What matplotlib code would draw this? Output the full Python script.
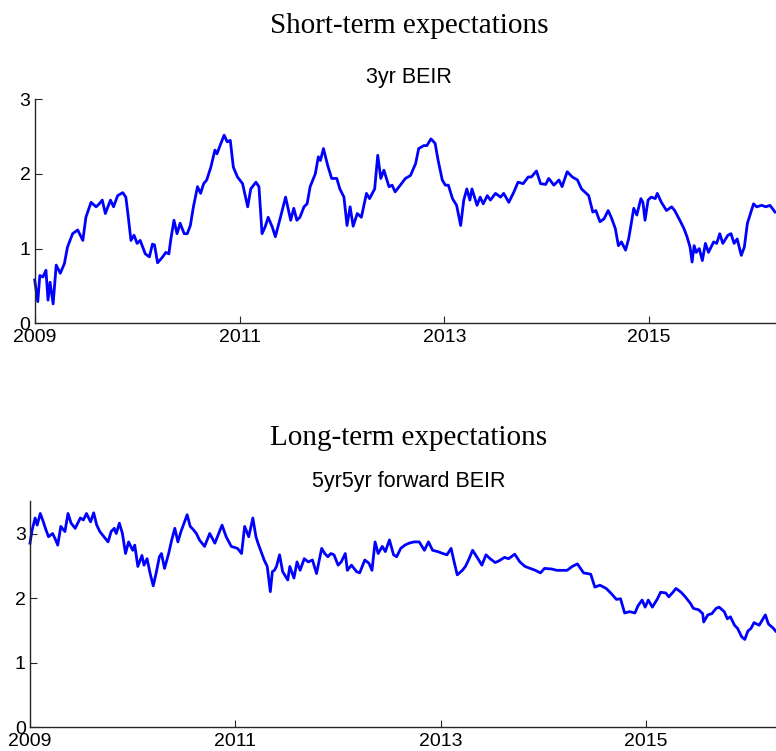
import matplotlib
matplotlib.use("Agg")
import matplotlib.pyplot as plt
import numpy as np

# ---- data: 3yr BEIR (short-term) ----
years_short = [
    2009.00, 2009.03, 2009.05, 2009.08, 2009.11, 2009.13, 2009.15, 2009.18, 2009.21, 2009.25,
    2009.29, 2009.32, 2009.37, 2009.42, 2009.47, 2009.50, 2009.55, 2009.60, 2009.63, 2009.66,
    2009.69, 2009.74, 2009.77, 2009.81, 2009.86, 2009.89, 2009.91, 2009.94, 2009.97, 2010.00,
    2010.03, 2010.08, 2010.12, 2010.15, 2010.17, 2010.20, 2010.25, 2010.28, 2010.31, 2010.33,
    2010.36, 2010.39, 2010.42, 2010.46, 2010.49, 2010.52, 2010.55, 2010.59, 2010.62, 2010.65,
    2010.68, 2010.72, 2010.76, 2010.78, 2010.81, 2010.85, 2010.88, 2010.91, 2010.94, 2010.98,
    2011.03, 2011.08, 2011.11, 2011.16, 2011.19, 2011.22, 2011.25, 2011.28, 2011.32, 2011.35,
    2011.40, 2011.45, 2011.50, 2011.53, 2011.56, 2011.59, 2011.63, 2011.66, 2011.69, 2011.74,
    2011.77, 2011.79, 2011.82, 2011.86, 2011.90, 2011.95, 2011.98, 2012.02, 2012.05, 2012.08,
    2012.11, 2012.15, 2012.19, 2012.24, 2012.27, 2012.32, 2012.35, 2012.38, 2012.41, 2012.46,
    2012.49, 2012.52, 2012.57, 2012.62, 2012.67, 2012.72, 2012.75, 2012.80, 2012.83, 2012.87,
    2012.91, 2012.94, 2012.98, 2013.01, 2013.04, 2013.08, 2013.12, 2013.16, 2013.19, 2013.22,
    2013.25, 2013.27, 2013.32, 2013.35, 2013.38, 2013.42, 2013.45, 2013.50, 2013.55, 2013.58,
    2013.63, 2013.68, 2013.72, 2013.77, 2013.82, 2013.85, 2013.90, 2013.94, 2013.99, 2014.02,
    2014.07, 2014.12, 2014.15, 2014.20, 2014.25, 2014.30, 2014.34, 2014.41, 2014.45, 2014.48,
    2014.52, 2014.56, 2014.60, 2014.63, 2014.67, 2014.70, 2014.73, 2014.77, 2014.80, 2014.82,
    2014.85, 2014.88, 2014.92, 2014.94, 2014.96, 2014.99, 2015.02, 2015.06, 2015.08, 2015.12,
    2015.17, 2015.22, 2015.25, 2015.30, 2015.34, 2015.37, 2015.40, 2015.42, 2015.44, 2015.46,
    2015.49, 2015.52, 2015.55, 2015.58, 2015.63, 2015.66, 2015.69, 2015.72, 2015.77, 2015.80,
    2015.83, 2015.86, 2015.90, 2015.93, 2015.96, 2015.99, 2016.02, 2016.05, 2016.10, 2016.14,
    2016.18, 2016.23,
]
beir_3yr = [
    0.58, 0.29, 0.64, 0.62, 0.71, 0.31, 0.55, 0.26, 0.78, 0.67,
    0.80, 1.02, 1.20, 1.25, 1.11, 1.42, 1.62, 1.56, 1.60, 1.65,
    1.47, 1.65, 1.56, 1.71, 1.75, 1.69, 1.47, 1.11, 1.18, 1.07,
    1.11, 0.93, 0.89, 1.06, 1.05, 0.81, 0.89, 0.95, 0.93, 1.13,
    1.38, 1.20, 1.34, 1.20, 1.20, 1.31, 1.56, 1.83, 1.74, 1.87,
    1.92, 2.09, 2.32, 2.27, 2.38, 2.52, 2.43, 2.45, 2.09, 1.96,
    1.87, 1.56, 1.80, 1.89, 1.83, 1.20, 1.29, 1.42, 1.29, 1.16,
    1.42, 1.69, 1.38, 1.54, 1.38, 1.42, 1.56, 1.60, 1.83, 2.00,
    2.23, 2.18, 2.34, 2.12, 1.94, 1.94, 1.80, 1.69, 1.31, 1.56,
    1.30, 1.47, 1.42, 1.74, 1.67, 1.80, 2.25, 1.94, 2.05, 1.83,
    1.85, 1.76, 1.85, 1.94, 1.98, 2.14, 2.34, 2.38, 2.38, 2.47,
    2.41, 2.18, 1.92, 1.85, 1.85, 1.67, 1.58, 1.31, 1.65, 1.80,
    1.65, 1.80, 1.58, 1.69, 1.60, 1.71, 1.65, 1.74, 1.69, 1.74,
    1.62, 1.76, 1.89, 1.87, 1.96, 1.96, 2.04, 1.87, 1.86, 1.94,
    1.85, 1.92, 1.83, 2.03, 1.96, 1.92, 1.80, 1.71, 1.49, 1.51,
    1.36, 1.40, 1.51, 1.42, 1.27, 1.04, 1.09, 0.98, 1.13, 1.29,
    1.54, 1.45, 1.67, 1.62, 1.38, 1.65, 1.69, 1.67, 1.74, 1.62,
    1.51, 1.56, 1.51, 1.38, 1.27, 1.16, 1.02, 0.82, 1.04, 0.95,
    1.00, 0.84, 1.07, 0.95, 1.09, 1.07, 1.20, 1.07, 1.18, 1.20,
    1.07, 1.13, 0.91, 1.02, 1.34, 1.47, 1.60, 1.56, 1.58, 1.56,
    1.58, 1.49,
]

# ---- data: 5yr5yr forward BEIR (long-term) ----
years_long = [
    2009.00, 2009.02, 2009.05, 2009.07, 2009.10, 2009.13, 2009.15, 2009.18, 2009.22, 2009.25,
    2009.27, 2009.30, 2009.34, 2009.37, 2009.40, 2009.44, 2009.49, 2009.52, 2009.55, 2009.59,
    2009.62, 2009.65, 2009.68, 2009.72, 2009.76, 2009.79, 2009.82, 2009.84, 2009.87, 2009.90,
    2009.93, 2009.96, 2010.00, 2010.02, 2010.05, 2010.09, 2010.11, 2010.14, 2010.17, 2010.20,
    2010.23, 2010.26, 2010.28, 2010.31, 2010.35, 2010.38, 2010.41, 2010.44, 2010.47, 2010.53,
    2010.56, 2010.59, 2010.62, 2010.65, 2010.70, 2010.75, 2010.80, 2010.87, 2010.91, 2010.96,
    2011.02, 2011.06, 2011.09, 2011.13, 2011.17, 2011.20, 2011.22, 2011.28, 2011.31, 2011.34,
    2011.36, 2011.38, 2011.40, 2011.43, 2011.46, 2011.51, 2011.53, 2011.57, 2011.60, 2011.63,
    2011.67, 2011.71, 2011.75, 2011.79, 2011.84, 2011.87, 2011.90, 2011.93, 2011.96, 2012.00,
    2012.03, 2012.07, 2012.09, 2012.13, 2012.18, 2012.21, 2012.26, 2012.30, 2012.33, 2012.36,
    2012.39, 2012.43, 2012.46, 2012.50, 2012.54, 2012.57, 2012.61, 2012.65, 2012.69, 2012.74,
    2012.79, 2012.84, 2012.88, 2012.92, 2012.97, 2013.02, 2013.06, 2013.10, 2013.13, 2013.16,
    2013.21, 2013.24, 2013.27, 2013.31, 2013.35, 2013.40, 2013.44, 2013.48, 2013.53, 2013.57,
    2013.62, 2013.66, 2013.72, 2013.77, 2013.82, 2013.87, 2013.92, 2013.97, 2014.01, 2014.08,
    2014.13, 2014.18, 2014.23, 2014.28, 2014.33, 2014.39, 2014.46, 2014.50, 2014.55, 2014.61,
    2014.66, 2014.71, 2014.75, 2014.79, 2014.84, 2014.89, 2014.92, 2014.96, 2014.99, 2015.02,
    2015.06, 2015.11, 2015.14, 2015.19, 2015.22, 2015.26, 2015.29, 2015.34, 2015.38, 2015.43,
    2015.46, 2015.51, 2015.55, 2015.56, 2015.60, 2015.64, 2015.68, 2015.71, 2015.76, 2015.79,
    2015.82, 2015.86, 2015.89, 2015.93, 2015.96, 2015.99, 2016.02, 2016.05, 2016.10, 2016.16,
    2016.19, 2016.24, 2016.26,
]
fwd_5y5y = [
    2.85, 3.05, 3.24, 3.13, 3.31, 3.18, 3.08, 2.95, 3.00, 2.90,
    2.82, 3.11, 3.03, 3.31, 3.16, 3.08, 3.24, 3.21, 3.31, 3.18,
    3.32, 3.13, 3.03, 2.95, 2.87, 3.03, 3.08, 3.00, 3.16, 3.00,
    2.69, 2.87, 2.74, 2.82, 2.49, 2.66, 2.51, 2.61, 2.38, 2.19,
    2.40, 2.64, 2.69, 2.46, 2.69, 2.90, 3.08, 2.87, 3.03, 3.29,
    3.11, 3.06, 3.00, 2.90, 2.80, 3.00, 2.85, 3.13, 2.95, 2.80,
    2.77, 2.69, 3.11, 2.95, 3.24, 2.95, 2.85, 2.59, 2.49, 2.10,
    2.41, 2.43, 2.49, 2.67, 2.41, 2.28, 2.49, 2.31, 2.56, 2.43,
    2.61, 2.56, 2.59, 2.38, 2.77, 2.69, 2.64, 2.69, 2.67, 2.51,
    2.56, 2.69, 2.43, 2.51, 2.41, 2.39, 2.59, 2.54, 2.43, 2.87,
    2.69, 2.80, 2.72, 2.90, 2.67, 2.64, 2.77, 2.82, 2.85, 2.87,
    2.87, 2.74, 2.87, 2.74, 2.72, 2.69, 2.67, 2.77, 2.56, 2.36,
    2.43, 2.49, 2.59, 2.74, 2.64, 2.51, 2.67, 2.61, 2.55, 2.58,
    2.63, 2.61, 2.68, 2.56, 2.49, 2.46, 2.43, 2.39, 2.46, 2.45,
    2.43, 2.43, 2.43, 2.49, 2.53, 2.39, 2.37, 2.17, 2.20, 2.15,
    2.07, 1.98, 1.99, 1.77, 1.79, 1.77, 1.88, 1.97, 1.86, 1.97,
    1.86, 1.99, 2.09, 2.08, 2.02, 2.09, 2.15, 2.09, 2.02, 1.92,
    1.84, 1.82, 1.76, 1.63, 1.74, 1.76, 1.84, 1.86, 1.79, 1.68,
    1.71, 1.58, 1.53, 1.40, 1.36, 1.49, 1.53, 1.62, 1.58, 1.74,
    1.60, 1.53, 1.49,
]

year_ticks = [2009, 2011, 2013, 2015]
year_labels = ["2009", "2011", "2013", "2015"]
yticks_short = [0, 1, 2, 3]
yticks_long = [0, 1, 2, 3]

W, H = 776, 751
fig = plt.figure(figsize=(W / 100, H / 100), dpi=100)

def px_axes(left, top, right, bottom):
    return [left / W, 1 - bottom / H, (right - left) / W, (bottom - top) / H]

sans = ["Liberation Sans", "DejaVu Sans"]
serif = ["Liberation Serif", "DejaVu Serif"]

def style(ax):
    for s in ("top", "right"):
        ax.spines[s].set_visible(False)
    for s in ("left", "bottom"):
        ax.spines[s].set_color("#262626")
        ax.spines[s].set_linewidth(1.0)
    ax.tick_params(direction="in", length=5, width=0.8, colors="#262626",
                   labelcolor="black", labelsize=14)
    ax.tick_params(axis="x", pad=4)
    ax.tick_params(axis="y", pad=3)
    for lab in ax.get_xticklabels() + ax.get_yticklabels():
        lab.set_fontfamily(sans)

# top axes
ax1 = fig.add_axes(px_axes(34.7, 99.3, 781, 323.3))
ax1.plot(years_short, beir_3yr, color="#0000ff", lw=2.0, clip_on=False)
ax1.set_xlim(2009, 2009 + (781 - 34.7) / 102.4)
ax1.set_ylim(0, 3)
ax1.set_xticks(year_ticks)
ax1.set_xticklabels(year_labels)
ax1.set_yticks(yticks_short)
style(ax1)

# bottom axes
ax2 = fig.add_axes(px_axes(30, 501.2, 781, 727.3))
ax2.plot(years_long, fwd_5y5y, color="#0000ff", lw=2.0, clip_on=False)
ax2.set_xlim(2009, 2009 + (781 - 30) / 102.7)
ax2.set_ylim(0, 3.5)
ax2.set_xticks(year_ticks)
ax2.set_xticklabels(year_labels)
ax2.set_yticks(yticks_long)
style(ax2)

fig.text(409 / W, 1 - 26 / H, "Short-term expectations", ha="center", va="center",
         family=serif, size=21)
fig.text(409 / W, 1 - 77 / H, "3yr BEIR", ha="center", va="center",
         family=sans, size=15.5)
fig.text(409 / W, 1 - 438 / H, "Long-term expectations", ha="center", va="center",
         family=serif, size=21)
fig.text(409 / W, 1 - 481 / H, "5yr5yr forward BEIR", ha="center", va="center",
         family=sans, size=15.5)

fig.savefig("out.png", dpi=100)
